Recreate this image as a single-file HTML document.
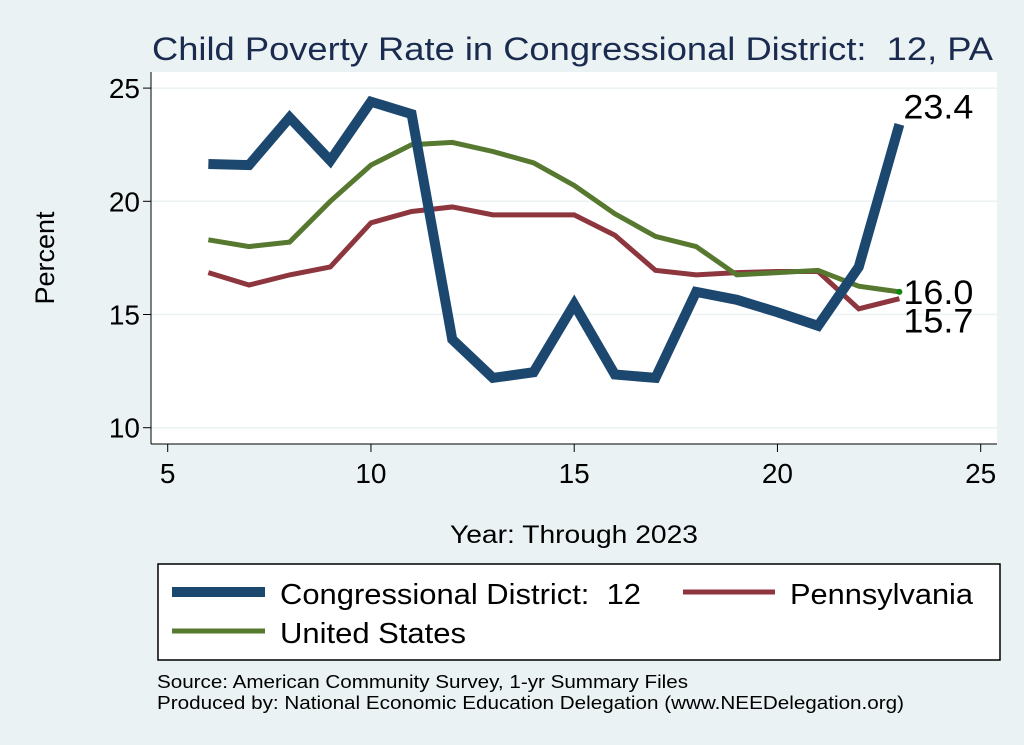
<!DOCTYPE html>
<html><head><meta charset="utf-8"><style>
body{margin:0;background:#eaf2f3;}
svg{display:block;font-family:"Liberation Sans",sans-serif;}
</style></head><body>
<svg id="chart" width="1024" height="745">
<rect x="0" y="0" width="1024" height="745" fill="#eaf2f3"/>
<text x="152" y="60" font-size="32" textLength="841" lengthAdjust="spacingAndGlyphs" fill="#1a2b4f">Child Poverty Rate in Congressional District:&#160; 12, PA</text>
<rect x="151" y="72" width="846" height="372" fill="#fff"/>
<g id="grid"></g>
<g id="axes"></g>
<g id="series"></g>
<text x="54" y="258" text-anchor="middle" font-size="27" transform="rotate(-90 54 258)">Percent</text>
<text x="450" y="543" font-size="25" textLength="248" lengthAdjust="spacingAndGlyphs">Year: Through 2023</text>
<g>
<rect x="158" y="564" width="842" height="96" fill="#fff" stroke="#000" stroke-width="1.5"/>
<line x1="172" y1="592" x2="265" y2="592" stroke="#1c476f" stroke-width="10"/>
<text x="280" y="604" font-size="29" textLength="361" lengthAdjust="spacingAndGlyphs">Congressional District:&#160; 12</text>
<line x1="683" y1="592" x2="775" y2="592" stroke="#8e363e" stroke-width="5"/>
<text x="790" y="604" font-size="29" textLength="183" lengthAdjust="spacingAndGlyphs">Pennsylvania</text>
<line x1="172" y1="631" x2="265" y2="631" stroke="#56782f" stroke-width="5"/>
<text x="280" y="643" font-size="29" textLength="186" lengthAdjust="spacingAndGlyphs">United States</text>
</g>
<text x="157" y="688" font-size="18" textLength="531" lengthAdjust="spacingAndGlyphs">Source: American Community Survey, 1-yr Summary Files</text>
<text x="157" y="709" font-size="18" textLength="747" lengthAdjust="spacingAndGlyphs">Produced by: National Economic Education Delegation (www.NEEDelegation.org)</text>
</svg>
<script>
const years=[6,7,8,9,10,11,12,13,14,15,16,17,18,19,20,21,22,23];
const district=[21.65,21.6,23.7,21.8,24.4,23.85,13.9,12.2,12.45,15.45,12.35,12.2,16.0,15.65,15.1,14.5,17.1,23.4];
const pennsylvania=[16.85,16.3,16.75,17.1,19.05,19.55,19.75,19.4,19.4,19.4,18.5,16.95,16.75,16.85,16.9,16.9,15.25,15.7];
const us=[18.3,18.0,18.2,20.0,21.6,22.5,22.6,22.2,21.7,20.7,19.45,18.45,18.0,16.75,16.85,16.95,16.25,16.0];
const xTicks=[5,10,15,20,25];
const yTicks=[10,15,20,25];
const NS="http://www.w3.org/2000/svg";
function X(v){return 167.7+(v-5)*40.65;}
function Y(v){return 427.7-(v-10)*22.64;}
function mk(tag,attrs,parent){const e=document.createElementNS(NS,tag);for(const k in attrs)e.setAttribute(k,attrs[k]);parent.appendChild(e);return e;}
const grid=document.getElementById('grid'),axes=document.getElementById('axes'),ser=document.getElementById('series');
yTicks.forEach(t=>{
 const g=mk('line',{x1:151,x2:997,y1:Y(t),y2:Y(t),stroke:'#eaf2f3','stroke-width':1.5},grid);
 
 
 const tk=mk('line',{x1:143,x2:151,y1:Y(t),y2:Y(t),stroke:'#000','stroke-width':1},axes);
 
 
 const tx=mk('text',{x:140,y:Y(t)+10,'text-anchor':'end','font-size':28},axes);
 tx.textContent=t;
 
 
});
xTicks.forEach(t=>{
 const tk=mk('line',{x1:X(t),x2:X(t),y1:444,y2:452,stroke:'#000','stroke-width':1},axes);
 
 
 const tx=mk('text',{x:X(t),y:483,'text-anchor':'middle','font-size':28},axes);
 tx.textContent=t;
 
 
});
const ya=mk('line',{x1:151,x2:151,y1:72,y2:444,stroke:'#000','stroke-width':1},axes);


const xa=mk('line',{x1:151,x2:997,y1:444,y2:444,stroke:'#000','stroke-width':1},axes);


function line(vals,color,w,name){
 const p=mk('polyline',{points:vals.map((v,i)=>X(years[i])+','+Y(v)).join(' '),fill:'none',stroke:color,'stroke-width':w,'stroke-linejoin':'miter'},ser);
 
 
}
line(pennsylvania,'#8e363e',5,'pennsylvania-line');
line(us,'#56782f',5,'us-line');
line(district,'#1c476f',10,'district-line');
const dot=mk('circle',{cx:X(years[years.length-1]),cy:Y(us[us.length-1]),r:3,fill:'#0a8a0a'},ser);


function lab(v,dy,name){
 const t=mk('text',{x:X(years[years.length-1])+4,y:Y(v)+dy,'font-size':34,textLength:70,lengthAdjust:'spacingAndGlyphs'},ser);
 t.textContent=v.toFixed(1);
 
 
}
lab(district[district.length-1],-6,'district-end-label');
lab(us[us.length-1],12,'us-end-label');
lab(pennsylvania[pennsylvania.length-1],34,'pennsylvania-end-label');
</script>
</body></html>
